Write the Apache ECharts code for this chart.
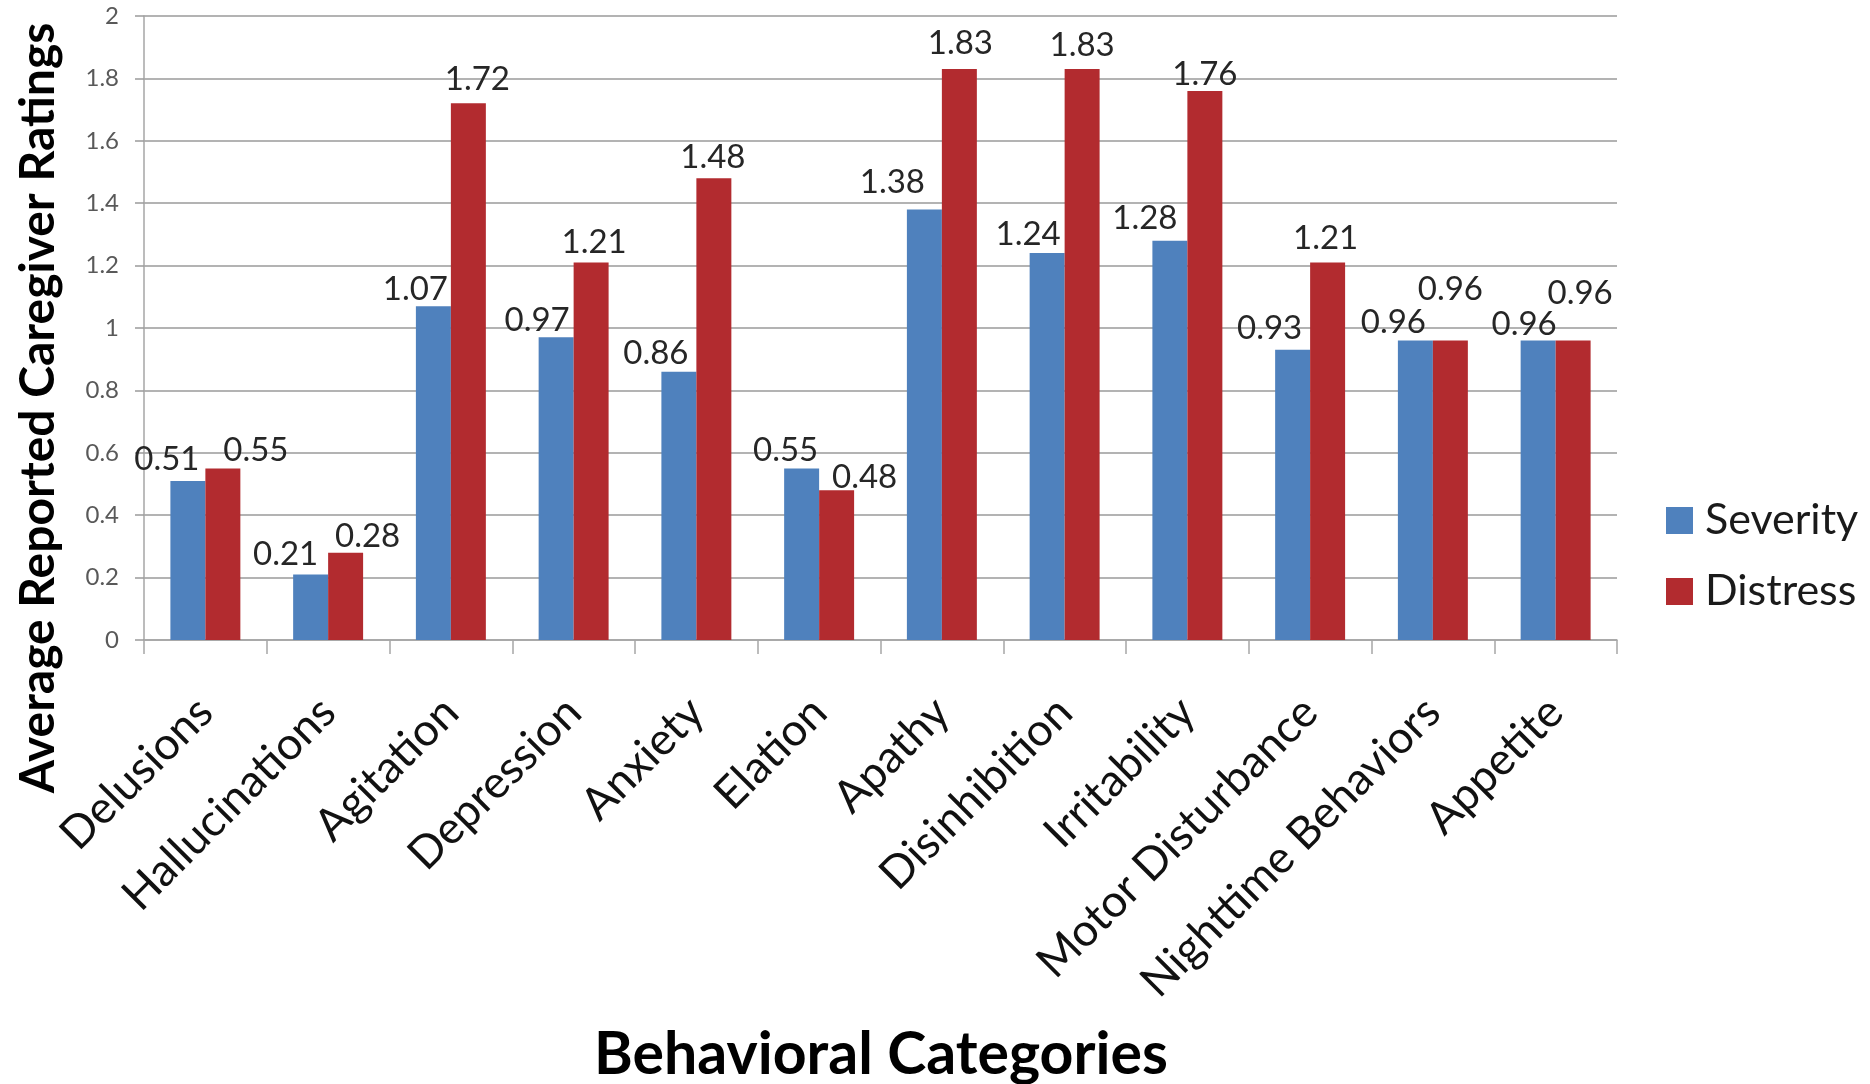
<!DOCTYPE html>
<html>
<head>
<meta charset="utf-8">
<title>Average Reported Caregiver Ratings</title>
<script src="https://cdn.jsdelivr.net/npm/echarts@6/dist/echarts.min.js"></script>
<style>
  html, body { margin: 0; padding: 0; background: #ffffff; }
  #chart { width: 1870px; height: 1084px; }
</style>
</head>
<body>
<div id="chart"></div>
<script>
// Behavioural categories and the two rating series
var categories = ['Delusions', 'Hallucinations', 'Agitation', 'Depression', 'Anxiety', 'Elation',
  'Apathy', 'Disinhibition', 'Irritability', 'Motor Disturbance', 'Nighttime Behaviors', 'Appetite'];
var severity = [0.51, 0.21, 1.07, 0.97, 0.86, 0.55, 1.38, 1.24, 1.28, 0.93, 0.96, 0.96];
var distress = [0.55, 0.28, 1.72, 1.21, 1.48, 0.48, 1.83, 1.83, 1.76, 1.21, 0.96, 0.96];
var yTickLabels = ['0', '0.2', '0.4', '0.6', '0.8', '1', '1.2', '1.4', '1.6', '1.8', '2'];

// Hand-placed value labels: [horizontal shift, gap between label centre and bar top]
var severityLabelPos = [[-21, 22], [-25, 20], [-18, 17], [-19, 17], [-23, 18], [-16, 18],
  [-32, 27], [-19, 19], [-25, 22], [-23, 21], [-22, 18], [-14, 16]];
var distressLabelPos = [[33, 18], [22, 16], [9, 24], [3, 20], [-1, 21], [28, 13],
  [1, 26], [0, 24], [0, 17], [-2, 24], [0, 51], [7, 47]];

var FONT = 'Lato';
var LABEL_SIZE = 33;
var LABEL_LH = 36;

function seriesData(values, pos) {
  return values.map(function (v, i) {
    return {
      value: v,
      label: { offset: [pos[i][0], LABEL_LH / 2 - pos[i][1]] }
    };
  });
}

var chart = echarts.init(document.getElementById('chart'), null, { renderer: 'canvas' });

var barLabel = {
  show: true,
  position: 'top',
  distance: 0,
  fontFamily: FONT,
  fontSize: LABEL_SIZE,
  lineHeight: LABEL_LH,
  color: '#262626',
  formatter: function (p) { return p.value.toFixed(2); }
};

chart.setOption({
  animation: false,
  backgroundColor: '#ffffff',
  textStyle: { fontFamily: FONT },
  grid: { left: 144, right: 253, top: 16, bottom: 444, containLabel: false },
  legend: {
    orient: 'vertical',
    left: 1661,
    top: 493,
    icon: 'rect',
    itemWidth: 27,
    itemHeight: 27,
    itemGap: 26,
    textStyle: { fontFamily: FONT, fontSize: 43, lineHeight: 45, color: '#1a1a1a', padding: [0, 0, 0, 7] },
    data: ['Severity', 'Distress']
  },
  xAxis: {
    type: 'category',
    data: categories,
    axisLine: { show: true, lineStyle: { color: '#A6A6A6', width: 1.5 } },
    axisTick: { show: true, alignWithLabel: false, length: 14, lineStyle: { color: '#A6A6A6', width: 1.5 } },
    axisLabel: {
      interval: 0,
      rotate: 45,
      margin: 65,
      fontFamily: FONT,
      fontSize: 45,
      color: '#111111'
    },
    splitLine: { show: false }
  },
  yAxis: {
    type: 'value',
    min: 0,
    max: 2,
    interval: 0.2,
    axisLine: { show: true, lineStyle: { color: '#A6A6A6', width: 1.5 } },
    axisTick: { show: true, length: 9, lineStyle: { color: '#9A9A9A', width: 1.5 } },
    axisLabel: {
      margin: 25,
      fontFamily: FONT,
      fontSize: 24,
      color: '#595959',
      formatter: function (v) { return yTickLabels[Math.round(v / 0.2)]; }
    },
    splitLine: { show: true, lineStyle: { color: '#9A9A9A', width: 1.5 } }
  },
  series: [
    {
      name: 'Severity',
      type: 'bar',
      barGap: '0%',
      barCategoryGap: '43%',
      itemStyle: { color: '#4F81BD' },
      label: barLabel,
      data: seriesData(severity, severityLabelPos)
    },
    {
      name: 'Distress',
      type: 'bar',
      itemStyle: { color: '#B22B2F' },
      label: barLabel,
      data: seriesData(distress, distressLabelPos)
    }
  ],
  graphic: [
    {
      type: 'text',
      x: 39,
      y: 408,
      rotation: Math.PI / 2,
      style: {
        text: 'Average Reported Caregiver Ratings',
        fontFamily: FONT,
        fontWeight: 'bold',
        fontSize: 48,
        fill: '#000000',
        align: 'center',
        verticalAlign: 'middle'
      }
    },
    {
      type: 'text',
      x: 881,
      y: 1055,
      style: {
        text: 'Behavioral Categories',
        fontFamily: FONT,
        fontWeight: 'bold',
        fontSize: 59,
        fill: '#000000',
        align: 'center',
        verticalAlign: 'middle'
      }
    }
  ]
});
</script>
</body>
</html>
